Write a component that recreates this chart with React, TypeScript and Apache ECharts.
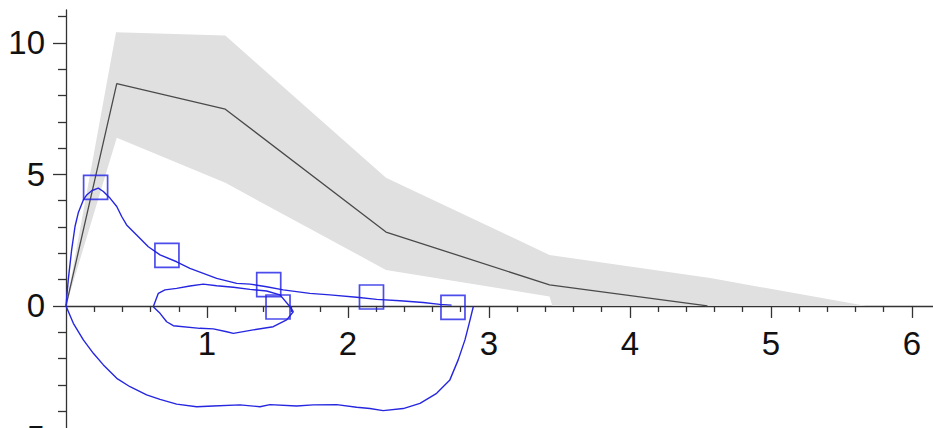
import React, { useEffect, useRef } from 'react';
import * as echarts from 'echarts';

// Grey confidence band
const bandUpperX = [0, 0.355, 1.13, 2.27, 3.43, 4.57, 5.68];
const bandUpperY = [0, 10.4, 10.28, 4.87, 1.94, 1.06, 0];
const bandLowerX = [0, 0.36, 1.13, 2.27, 3.43, 3.45, 5.68];
const bandLowerY = [0, 6.39, 4.68, 1.37, 0.36, 0, 0];

// Black mean line
const meanX = [0, 0.36, 1.13, 2.27, 3.43, 4.55];
const meanY = [0, 8.45, 7.48, 2.81, 0.8, 0];

// Blue square markers
const markerX = [0.21, 0.716, 1.438, 1.504, 2.167, 2.745];
const markerY = [4.51, 1.92, 0.81, -0.04, 0.34, -0.05];

// Blue curve: upper branch
const curveAX = [0, 0.016, 0.04, 0.064, 0.087, 0.123, 0.147, 0.182, 0.229, 0.265, 0.312, 0.36, 0.395, 0.43, 0.501, 0.584, 0.667, 0.785, 0.879, 1.069, 1.211, 1.305, 1.423, 1.541, 1.73, 1.872, 2.062, 2.204, 2.369, 2.534, 2.652, 2.735];
const curveAY = [0, 0.99, 2.13, 3.02, 3.54, 4.03, 4.22, 4.38, 4.48, 4.35, 4.1, 3.78, 3.4, 3.08, 2.7, 2.25, 1.94, 1.68, 1.43, 1.05, 0.86, 0.83, 0.73, 0.61, 0.48, 0.42, 0.33, 0.25, 0.2, 0.13, 0.06, 0.03];

// Blue curve: lower loop
const curveBX = [0, 0.052, 0.123, 0.194, 0.265, 0.36, 0.454, 0.572, 0.667, 0.785, 0.927, 1.045, 1.234, 1.376, 1.447, 1.636, 1.754, 1.92, 2.062, 2.156, 2.25, 2.392, 2.511, 2.629, 2.723, 2.782, 2.83, 2.86, 2.889];
const curveBY = [0, -0.66, -1.29, -1.8, -2.24, -2.75, -3.07, -3.38, -3.55, -3.73, -3.83, -3.8, -3.76, -3.83, -3.75, -3.8, -3.76, -3.75, -3.85, -3.9, -3.98, -3.9, -3.7, -3.32, -2.81, -2.05, -1.29, -0.66, -0.03];

// Blue curve: small inner loop
const curveCX = [0.619, 0.655, 0.702, 0.785, 0.879, 0.974, 1.069, 1.187, 1.305, 1.423, 1.518, 1.589, 1.612, 1.565, 1.47, 1.328, 1.187, 1.14, 1.045, 0.95, 0.761, 0.714, 0.667, 0.619];
const curveCY = [-0.03, 0.48, 0.61, 0.67, 0.76, 0.83, 0.77, 0.71, 0.63, 0.57, 0.42, -0.03, -0.22, -0.53, -0.79, -0.91, -1.04, -0.98, -0.87, -0.85, -0.75, -0.6, -0.28, -0.03];

// Axis ticks / labels
const xMajor = [1, 2, 3, 4, 5, 6];
const xMinor = [0.2, 0.4, 0.6, 0.8, 1.2, 1.4, 1.6, 1.8, 2.2, 2.4, 2.6, 2.8, 3.2, 3.4, 3.6, 3.8, 4.2, 4.4, 4.6, 4.8, 5.2, 5.4, 5.6, 5.8, 6.2];
const yMajor = [-5, 0, 5, 10];
const yMinor = [-4, -3, -2, -1, 1, 2, 3, 4, 6, 7, 8, 9, 11];

const Y_MIN = -5;
const Y_MAX = 11.25;
const GRID_TOP = 10;
const GRID_BOTTOM = 32.5;
const CHART_H = 470;

const pairs = (xs: number[], ys: number[]) => xs.map((x, i) => [x, ys[i]]);

const BLUE = '#2626e0';
const AXIS = '#333333';
const FONT = "'Liberation Sans', Arial, sans-serif";

export default function App() {
  const ref = useRef<HTMLDivElement>(null);
  useEffect(() => {
    document.body.style.margin = '0';
    if (!ref.current) return;
    const chart = echarts.init(ref.current, undefined, { renderer: 'svg' });
    // place the x axis at y = 0 by offsetting it up from the grid bottom
    const gridH = CHART_H - GRID_TOP - GRID_BOTTOM;
    const zeroOffset = -(gridH * (0 - Y_MIN)) / (Y_MAX - Y_MIN);
    const xCommon = {
      type: 'value', min: 0, max: 6.15, position: 'bottom', offset: zeroOffset,
      splitLine: { show: false },
    };
    const yCommon = { type: 'value', min: Y_MIN, max: Y_MAX, position: 'left', splitLine: { show: false } };
    chart.setOption({
      animation: false,
      backgroundColor: '#ffffff',
      grid: { left: 66, right: 0, top: GRID_TOP, bottom: GRID_BOTTOM, containLabel: false, outerBoundsMode: 'none' },
      xAxis: [
        {
          ...xCommon,
          axisLine: { show: true, onZero: false, lineStyle: { color: AXIS, width: 1.3 } },
          axisTick: { show: true, length: 12, customValues: xMajor, lineStyle: { color: AXIS, width: 1.3 } },
          axisLabel: { show: true, customValues: xMajor, fontSize: 33, margin: 21, color: '#111', fontFamily: FONT },
        },
        {
          ...xCommon,
          axisLine: { show: false, onZero: false },
          axisTick: { show: true, length: 6, customValues: xMinor, lineStyle: { color: AXIS, width: 1.3 } },
          axisLabel: { show: false },
        },
      ],
      yAxis: [
        {
          ...yCommon,
          axisLine: { show: true, onZero: false, lineStyle: { color: AXIS, width: 1.3 } },
          axisTick: { show: true, length: 13, customValues: yMajor, lineStyle: { color: AXIS, width: 1.3 } },
          axisLabel: { show: true, customValues: yMajor, fontSize: 33, margin: 21, color: '#111', fontFamily: FONT },
        },
        {
          ...yCommon,
          axisLine: { show: false, onZero: false },
          axisTick: { show: true, length: 8, customValues: yMinor, lineStyle: { color: AXIS, width: 1.3 } },
          axisLabel: { show: false },
        },
      ],
      series: [
        {
          type: 'custom',
          xAxisIndex: 0,
          yAxisIndex: 0,
          silent: true,
          z: 1,
          data: [[0, 0]],
          renderItem: (_params: any, api: any) => {
            const up = bandUpperX.map((x, i) => api.coord([x, bandUpperY[i]]));
            const lo = bandLowerX.map((x, i) => api.coord([x, bandLowerY[i]])).reverse();
            return { type: 'polygon', shape: { points: up.concat(lo) }, style: { fill: '#e0e0e0' } };
          },
        },
        {
          type: 'line',
          xAxisIndex: 0,
          yAxisIndex: 0,
          z: 2,
          data: pairs(meanX, meanY),
          showSymbol: false,
          lineStyle: { color: '#4a4a4a', width: 1.3 },
        },
        {
          type: 'line',
          z: 3,
          data: pairs(curveAX, curveAY),
          showSymbol: false,
          lineStyle: { color: BLUE, width: 1.4 },
        },
        {
          type: 'line',
          z: 3,
          data: pairs(curveBX, curveBY),
          showSymbol: false,
          lineStyle: { color: BLUE, width: 1.4 },
        },
        {
          type: 'line',
          z: 3,
          data: pairs(curveCX, curveCY),
          showSymbol: false,
          lineStyle: { color: BLUE, width: 1.4 },
        },
        {
          type: 'scatter',
          z: 4,
          data: pairs(markerX, markerY),
          symbol: 'rect',
          symbolSize: 24,
          itemStyle: { color: 'rgba(0,0,0,0)', borderColor: '#1f1fe6', borderWidth: 1.7 },
        },
      ],
    });
    return () => chart.dispose();
  }, []);
  return (
    <div style={{ width: 933, height: 428, overflow: 'hidden' }}>
      <div ref={ref} style={{ width: 933, height: CHART_H }} />
    </div>
  );
}
